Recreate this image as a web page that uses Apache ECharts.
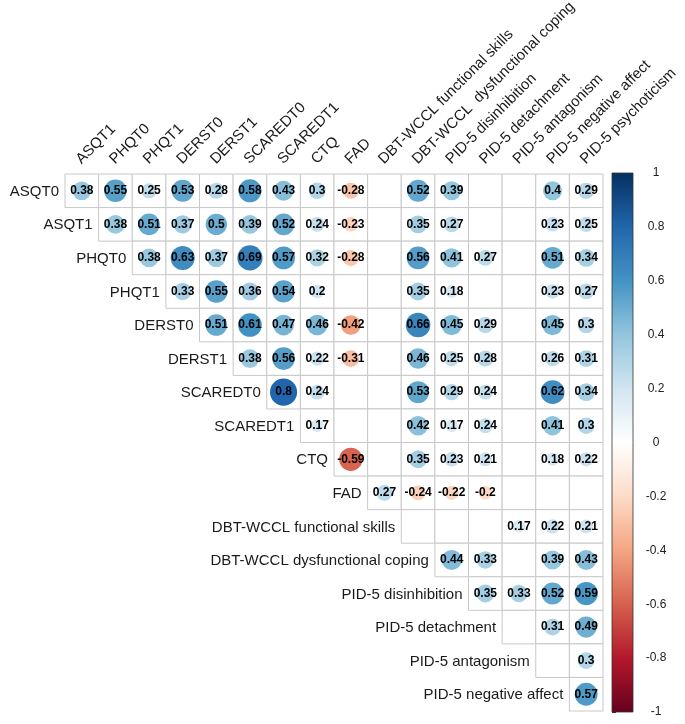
<!DOCTYPE html>
<html><head><meta charset="utf-8">
<script src="https://cdn.jsdelivr.net/npm/echarts@6/dist/echarts.min.js"></script>
<style>html,body{margin:0;padding:0;background:#fff}#c{width:685px;height:724px}</style>
</head><body><div id="c"></div>
<script>
const rowLabels = ['ASQT0','ASQT1','PHQT0','PHQT1','DERST0','DERST1','SCAREDT0','SCAREDT1','CTQ','FAD','DBT-WCCL functional skills','DBT-WCCL dysfunctional coping','PID-5 disinhibition','PID-5 detachment','PID-5 antagonism','PID-5 negative affect'];
const colLabels = ['ASQT1','PHQT0','PHQT1','DERST0','DERST1','SCAREDT0','SCAREDT1','CTQ','FAD','DBT-WCCL functional skills','DBT-WCCL  dysfunctional coping','PID-5 disinhibition','PID-5 detachment','PID-5 antagonism','PID-5 negative affect','PID-5 psychoticism'];

// each row starts at its diagonal column; null = not shown
const r_ASQT0 = [0.38,0.55,0.25,0.53,0.28,0.58,0.43,0.3,-0.28,null,0.52,0.39,null,null,0.4,0.29];
const r_ASQT1 = [0.38,0.51,0.37,0.5,0.39,0.52,0.24,-0.23,null,0.35,0.27,null,null,0.23,0.25];
const r_PHQT0 = [0.38,0.63,0.37,0.69,0.57,0.32,-0.28,null,0.56,0.41,0.27,null,0.51,0.34];
const r_PHQT1 = [0.33,0.55,0.36,0.54,0.2,null,null,0.35,0.18,null,null,0.23,0.27];
const r_DERST0 = [0.51,0.61,0.47,0.46,-0.42,null,0.66,0.45,0.29,null,0.45,0.3];
const r_DERST1 = [0.38,0.56,0.22,-0.31,null,0.46,0.25,0.28,null,0.26,0.31];
const r_SCAREDT0 = [0.8,0.24,null,null,0.53,0.29,0.24,null,0.62,0.34];
const r_SCAREDT1 = [0.17,null,null,0.42,0.17,0.24,null,0.41,0.3];
const r_CTQ = [-0.59,null,0.35,0.23,0.21,null,0.18,0.22];
const r_FAD = [0.27,-0.24,-0.22,-0.2,null,null,null];
const r_DBTf = [null,null,null,0.17,0.22,0.21];
const r_DBTd = [0.44,0.33,null,0.39,0.43];
const r_dis = [0.35,0.33,0.52,0.59];
const r_det = [null,0.31,0.49];
const r_ant = [null,0.3];
const r_neg = [0.57];
const corrRows = [r_ASQT0,r_ASQT1,r_PHQT0,r_PHQT1,r_DERST0,r_DERST1,r_SCAREDT0,r_SCAREDT1,r_CTQ,r_FAD,r_DBTf,r_DBTd,r_dis,r_det,r_ant,r_neg];

const rdbuColors = ['#67001F','#B2182B','#D6604D','#F4A582','#FDDBC7','#FFFFFF','#D1E5F0','#92C5DE','#4393C3','#2166AC','#053061'];

const cellData = [], circleData = [];
corrRows.forEach((row, r) => {
  row.forEach((v, k) => {
    const c = r + k;
    cellData.push([c, r]);
    if (v !== null) circleData.push([c, r, v]);
  });
});

const FONT = 'Liberation Sans, Arial, sans-serif';
const GL = 65, GT = 174, GW = 538, GH = 537;
const cellW = GW / colLabels.length;

const chart = echarts.init(document.getElementById('c'), null, {renderer: 'canvas'});
chart.setOption({
  backgroundColor: '#fff',
  animation: false,
  grid: [
    {left: GL, top: GT, width: GW, height: GH},
    {left: 612, top: 173, width: 21, height: 539}
  ],
  xAxis: [
    {gridIndex: 0, type: 'category', data: colLabels, position: 'top', show: false},
    {gridIndex: 1, type: 'value', min: 0, max: 1, show: false}
  ],
  yAxis: [
    {gridIndex: 0, type: 'category', data: rowLabels, inverse: true, show: false},
    {gridIndex: 1, type: 'value', min: -1, max: 1, interval: 0.2, position: 'right',
     axisLine: {show: false}, splitLine: {show: false},
     axisTick: {show: true, length: 4, lineStyle: {color: '#333'}},
     axisLabel: {margin: 23, align: 'center', fontSize: 12, color: '#222', fontFamily: FONT,
       formatter: v => String(Math.round(v * 10) / 10)}}
  ],
  visualMap: {
    show: false, type: 'continuous', min: -1, max: 1, dimension: 2, seriesIndex: 1,
    inRange: {color: rdbuColors}
  },
  series: [
    {
      type: 'custom', xAxisIndex: 0, yAxisIndex: 0, data: cellData, silent: true,
      renderItem: (params, api) => {
        const p = api.coord([api.value(0), api.value(1)]);
        const s = api.size([1, 1]);
        return {type: 'rect', shape: {x: p[0] - s[0] / 2, y: p[1] - s[1] / 2, width: s[0], height: s[1]},
          style: {fill: '#fff', stroke: '#c8c8c8', lineWidth: 1}};
      }
    },
    {
      type: 'scatter', xAxisIndex: 0, yAxisIndex: 0, data: circleData, silent: true,
      symbol: 'circle',
      symbolSize: d => 0.9 * Math.sqrt(Math.abs(d[2])) * cellW,
      itemStyle: {opacity: 1},
      label: {show: true, position: 'inside', formatter: p => String(p.value[2]),
        color: '#000', fontWeight: 'bold', fontSize: 12, fontFamily: FONT},
      z: 3
    },
    {
      type: 'custom', xAxisIndex: 0, yAxisIndex: 0, silent: true,
      data: rowLabels.map((n, i) => [i, i]),
      renderItem: (params, api) => {
        const i = api.value(0);
        const p = api.coord([i, i]);
        const s = api.size([1, 1]);
        return {type: 'text', x: p[0] - s[0] / 2 - 6, y: p[1] + 1,
          style: {text: rowLabels[i], align: 'right', verticalAlign: 'middle', fontSize: 15, fill: '#1a1a1a',
            fontFamily: FONT}};
      }
    },
    {
      type: 'custom', xAxisIndex: 0, yAxisIndex: 0, silent: true, clip: false,
      data: colLabels.map((n, i) => [i, 0]),
      renderItem: (params, api) => {
        const i = api.value(0);
        const p = api.coord([i, 0]);
        const s = api.size([1, 1]);
        return {type: 'text', x: p[0] + 2, y: p[1] - s[1] / 2 - 7, rotation: Math.PI / 4,
          style: {text: colLabels[i], align: 'left', verticalAlign: 'bottom', fontSize: 15, fill: '#1a1a1a',
            fontFamily: FONT}};
      }
    },
    {
      type: 'custom', xAxisIndex: 1, yAxisIndex: 1, silent: true, data: [[0, 1]],
      renderItem: (params, api) => {
        const a = api.coord([0, 1]);
        const b = api.coord([1, -1]);
        const stops = rdbuColors.map((c, i) => ({offset: 1 - i / (rdbuColors.length - 1), color: c}));
        stops.reverse();
        return {type: 'rect', shape: {x: a[0], y: a[1], width: b[0] - a[0], height: b[1] - a[1]},
          style: {fill: new echarts.graphic.LinearGradient(0, 0, 0, 1, stops), stroke: '#333', lineWidth: 0.8}};
      }
    }
  ]
});
</script></body></html>
